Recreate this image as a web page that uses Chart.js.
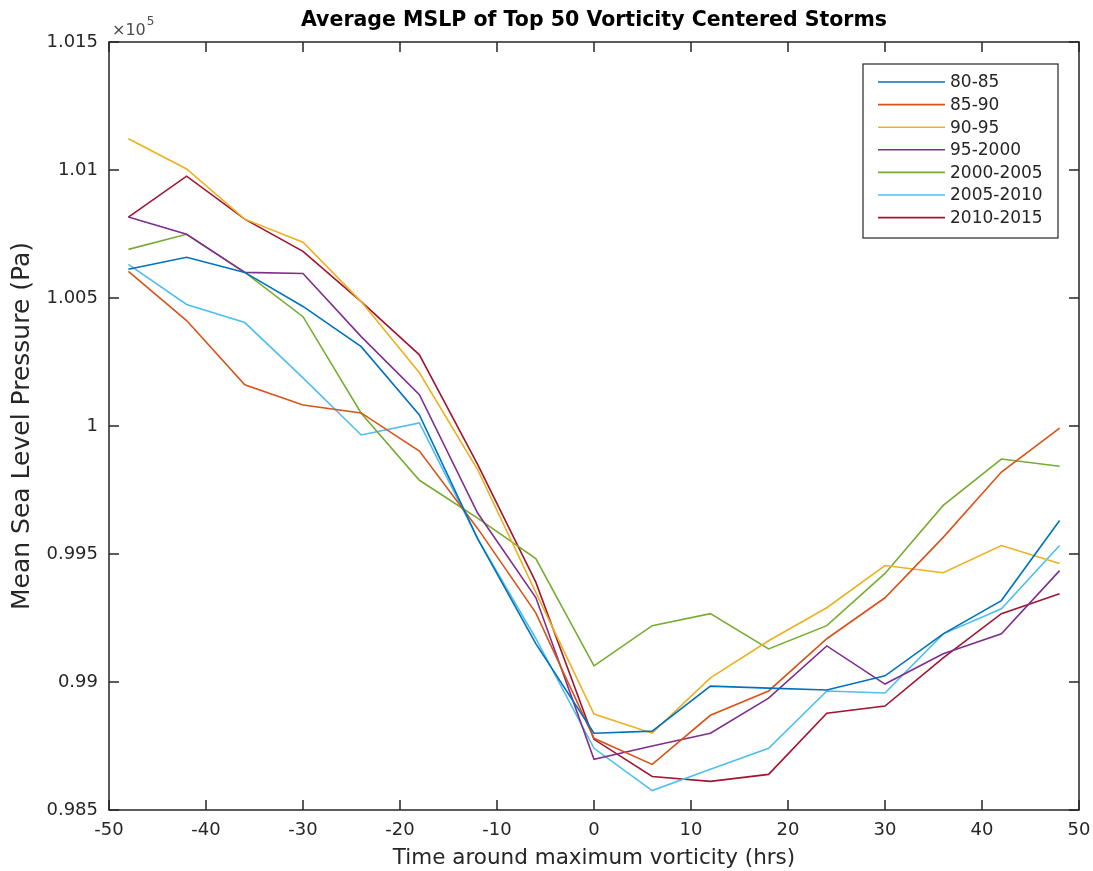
<!DOCTYPE html>
<html>
<head>
<meta charset="utf-8">
<title>Average MSLP of Top 50 Vorticity Centered Storms</title>
<script src="https://cdn.jsdelivr.net/npm/chart.js@4.4.1/dist/chart.umd.min.js"></script>
<style>
  html, body { margin: 0; padding: 0; background: #ffffff; }
  canvas { display: block; }
</style>
</head>
<body>
<canvas id="mslpChart" width="1093" height="871"></canvas>
<script>
'use strict';

// hours around the vorticity maximum
var hours = [-48, -42, -36, -30, -24, -18, -12, -6, 0, 6, 12, 18, 24, 30, 36, 42, 48];

// mean sea level pressure (Pa)
var p8085 = [100612, 100659, 100600, 100467, 100310, 100043, 99560, 99150, 98800, 98808, 98984, 98976, 98969, 99024, 99188, 99318, 99631];
var p8590 = [100604, 100412, 100161, 100082, 100051, 99902, 99600, 99270, 98780, 98678, 98870, 98965, 99169, 99329, 99565, 99820, 99992];
var p9095 = [101122, 101004, 100808, 100718, 100486, 100208, 99830, 99350, 98875, 98800, 99016, 99161, 99290, 99455, 99427, 99533, 99463];
var p952000 = [100816, 100749, 100600, 100596, 100349, 100122, 99660, 99330, 98698, 98750, 98800, 98937, 99141, 98992, 99110, 99188, 99435];
var p20002005 = [100690, 100749, 100600, 100427, 100050, 99788, 99640, 99482, 99063, 99220, 99267, 99129, 99220, 99424, 99690, 99871, 99843];
var p20052010 = [100631, 100475, 100404, 100188, 99965, 100012, 99560, 99170, 98741, 98576, 98659, 98741, 98965, 98957, 99188, 99286, 99533];
var p20102015 = [100816, 100976, 100808, 100682, 100486, 100278, 99850, 99390, 98776, 98631, 98612, 98639, 98878, 98906, 99094, 99267, 99345];

var seriesLabels = ["80-85", "85-90", "90-95", "95-2000", "2000-2005", "2005-2010", "2010-2015"];
var seriesValues = [p8085, p8590, p9095, p952000, p20002005, p20052010, p20102015];

var mslpjs = function () {
    var axisColor = "#262626";
    var lineColors = ["#0072BD", "#D95319", "#EDB120", "#7E2F8E", "#77AC30", "#4DBEEE", "#A2142F"];

    return {

        init: function () {
            Chart.defaults.font.family = "'DejaVu Sans', sans-serif";
            Chart.defaults.color = axisColor;
            mslpjs.handleLineChart();
        },

        buildDatasets: function () {
            return seriesValues.map(function (vals, i) {
                return {
                    label: seriesLabels[i],
                    data: hours.map(function (h, j) { return { x: h, y: vals[j] }; }),
                    borderColor: lineColors[i],
                    backgroundColor: lineColors[i],
                    borderWidth: 1.6,
                    pointRadius: 0,
                    tension: 0,
                    fill: false
                };
            });
        },

        //MATLAB STYLE BOX, INWARD TICKS, EXPONENT AND LEGEND
        axesBoxPlugin: {
            id: "axesBox",
            afterDraw: function (chart) {
                var ctx = chart.ctx;
                var ca = chart.chartArea;
                var xs = chart.scales.x;
                var ys = chart.scales.y;
                var tl = 10;
                ctx.save();
                ctx.strokeStyle = axisColor;
                ctx.lineWidth = 1.5;
                ctx.strokeRect(ca.left, ca.top, ca.right - ca.left, ca.bottom - ca.top);
                ctx.beginPath();
                xs.ticks.forEach(function (t) {
                    var px = xs.getPixelForValue(t.value);
                    ctx.moveTo(px, ca.bottom); ctx.lineTo(px, ca.bottom - tl);
                    ctx.moveTo(px, ca.top); ctx.lineTo(px, ca.top + tl);
                });
                ys.ticks.forEach(function (t) {
                    var py = ys.getPixelForValue(t.value);
                    ctx.moveTo(ca.left, py); ctx.lineTo(ca.left + tl, py);
                    ctx.moveTo(ca.right, py); ctx.lineTo(ca.right - tl, py);
                });
                ctx.stroke();

                // exponent
                ctx.fillStyle = "#4d4d4d";
                ctx.textBaseline = "middle";
                ctx.textAlign = "left";
                ctx.font = "16px 'DejaVu Sans'";
                ctx.fillText("\u00d710", ca.left + 3, ca.top - 11);
                var w = ctx.measureText("\u00d710").width;
                ctx.font = "12px 'DejaVu Sans'";
                ctx.fillText("5", ca.left + 4 + w, ca.top - 20);

                // legend
                var boxR = ca.right - 21;
                var boxL = boxR - 195;
                var boxT = ca.top + 22;
                var rowH = 22.6;
                ctx.fillStyle = "#ffffff";
                ctx.fillRect(boxL, boxT, boxR - boxL, 174);
                ctx.lineWidth = 1.2;
                ctx.strokeStyle = axisColor;
                ctx.strokeRect(boxL, boxT, boxR - boxL, 174);
                ctx.font = "17px 'DejaVu Sans'";
                chart.data.datasets.forEach(function (ds, i) {
                    var y = boxT + 18 + i * rowH;
                    ctx.strokeStyle = ds.borderColor;
                    ctx.lineWidth = 1.6;
                    ctx.beginPath();
                    ctx.moveTo(boxL + 15, y);
                    ctx.lineTo(boxL + 82, y);
                    ctx.stroke();
                    ctx.fillStyle = axisColor;
                    ctx.fillText(ds.label, boxL + 87, y + 1);
                });
                ctx.restore();
            }
        },

        handleLineChart: function () {
            new Chart(document.getElementById("mslpChart"), {
                type: "line",
                data: { datasets: mslpjs.buildDatasets() },
                plugins: [mslpjs.axesBoxPlugin],
                options: {
                    responsive: false,
                    animation: false,
                    devicePixelRatio: 1,
                    layout: { padding: { left: 0, right: 14, top: 0, bottom: 0 } },
                    plugins: {
                        legend: { display: false },
                        tooltip: { enabled: false },
                        title: {
                            display: true,
                            fullSize: false,
                            text: "Average MSLP of Top 50 Vorticity Centered Storms",
                            color: "#000000",
                            font: { size: 20.5, weight: "bold" },
                            padding: { top: 8, bottom: 9.4 }
                        }
                    },
                    scales: {
                        x: {
                            type: "linear",
                            min: -50,
                            max: 50,
                            afterFit: function (scale) {
                                scale.height = 61;
                                scale.paddingLeft = 0;
                                scale.paddingRight = 0;
                            },
                            grid: { display: false, drawTicks: false },
                            border: { display: false },
                            ticks: { stepSize: 10, padding: 10, font: { size: 18 }, maxRotation: 0 },
                            title: {
                                display: true,
                                text: "Time around maximum vorticity (hrs)",
                                font: { size: 21.5 },
                                padding: { top: 0, bottom: 0 }
                            }
                        },
                        y: {
                            type: "linear",
                            min: 98500,
                            max: 101500,
                            afterFit: function (scale) {
                                scale.width = 109;
                                scale.paddingTop = 0;
                                scale.paddingBottom = 0;
                            },
                            grid: { display: false, drawTicks: false },
                            border: { display: false },
                            ticks: {
                                stepSize: 500,
                                padding: 11,
                                font: { size: 18 },
                                callback: function (v) { return String(parseFloat((v / 1e5).toFixed(3))); }
                            },
                            title: {
                                display: true,
                                text: "Mean Sea Level Pressure (Pa)",
                                font: { size: 25 },
                                padding: { top: 7, bottom: 0 }
                            }
                        }
                    }
                }
            });
        }

    };

}();

// Call main function init
mslpjs.init();
</script>
</body>
</html>
